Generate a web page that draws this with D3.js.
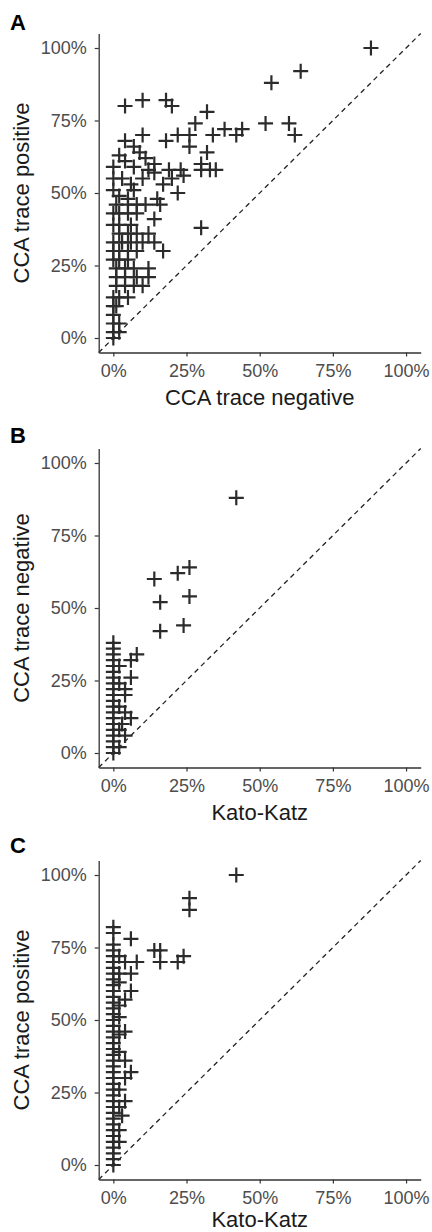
<!DOCTYPE html>
<html><head><meta charset="utf-8">
<script src="https://cdn.jsdelivr.net/npm/d3@7"></script>
<style>body{margin:0;background:#fff}svg{display:block}</style>
</head><body>
<svg id="chart" width="432" height="1232"></svg>
<script>
// Panel A: [CCA trace negative %, CCA trace positive %]
const pointsA = [
  [88,100],[64,92],[54,88],[4,80],[10,82],[18,82],[20,80],[32,78],[28,74],[52,74],[60,74],[62,70],
  [4,68],[10,70],[18,68],[22,70],[26,70],[26,66],[34,70],[38,72],[42,70],[44,72],[32,64],[30,60],
  [30,58],[33,58],[35,58],[30,38],
  [2,63],[7,66],[9,64],[11,62],[14,60],[0,59],[7,59],[19,58],[23,58],[24,56],[14,57],[20,55],
  [0,55],[3,55],[10,55],[22,50],[0,51],[7,51],[15,48],[2,49],[5,48],[4,61],[12,58],[6,53],[17,53],
  [1,46],[5,46],[8,46],[11,46],[16,46],[0,43],[2,43],[5,43],[8,43],[14,41],[0,39],[2,39],[6,39],
  [2,36],[5,36],[8,36],[12,36],[0,33],[3,33],[6,33],[10,33],[14,33],[0,30],[2,30],[5,30],[8,30],[17,30],
  [0,27],[2,27],[5,27],[1,24],[4,24],[7,24],[12,24],[1,21],[4,21],[8,21],[12,21],
  [1,18],[4,18],[7,18],[10,18],[0,14],[2,14],[5,14],[0,11],[1,11],[0,8],[0,5],[2,5],[0,2],[2,2],[0,0]
];
// Panel B: [Kato-Katz %, CCA trace negative %]
const pointsB = [
  [42,88],[14,60],[22,62],[26,64],[16,52],[26,54],[16,42],[24,44],[8,34],[6,32],[2,30],[6,26],
  [4,22],[4,20],[6,12],[3,10],[4,6],[2,2],[2,16],[2,8],[2,24],[4,14],
  [0,38],[0,36],[0,34],[0,32],[0,30],[0,28],[0,26],[0,24],[0,22],[0,20],[0,18],[0,16],[0,14],
  [0,12],[0,10],[0,8],[0,6],[0,4],[0,2],[0,0]
];
// Panel C: [Kato-Katz %, CCA trace positive %]
const pointsC = [
  [42,100],[26,92],[26,88],[6,78],[14,74],[16,74],[16,70],[24,72],[22,70],[8,70],[4,70],[2,72],
  [6,66],[2,63],[6,60],[4,57],[2,51],[4,46],[2,39],[4,36],[6,32],[4,30],[4,22],[2,20],[3,17],
  [2,26],[2,12],[2,45],[2,55],[2,66],[2,8],
  [0,82],[0,80],[0,76],[0,74],[0,72],[0,70],[0,68],[0,66],[0,64],[0,62],[0,60],[0,58],[0,56],
  [0,54],[0,52],[0,50],[0,48],[0,46],[0,44],[0,42],[0,40],[0,38],[0,36],[0,34],[0,32],[0,30],
  [0,28],[0,26],[0,24],[0,22],[0,20],[0,18],[0,16],[0,14],[0,12],[0,10],[0,8],[0,6],[0,4],[0,2],[0,0]
];
const tickValues = [0, 25, 50, 75, 100];
const panelLetters = ["A", "B", "C"];
const xTitles = ["CCA trace negative", "Kato-Katz", "Kato-Katz"];
const yTitles = ["CCA trace positive", "CCA trace negative", "CCA trace positive"];

const layout = [
  {top: 33.5, bottom: 352.5, letterY: 30, xTitleY: 405},
  {top: 448.5, bottom: 767.5, letterY: 443, xTitleY: 820},
  {top: 860.5, bottom: 1179.5, letterY: 853, xTitleY: 1227}
];
const left = 98.7, right = 420.7;
const font = "'Liberation Sans', Arial, sans-serif";
const svg = d3.select("#chart");
svg.append("rect").attr("width", 432).attr("height", 1232).attr("fill", "#fff");

const allPoints = [pointsA, pointsB, pointsC];

allPoints.forEach((pts, i) => {
  const L = layout[i];
  const x = d3.scaleLinear().domain([-5, 105]).range([left, right]);
  const y = d3.scaleLinear().domain([-5, 105]).range([L.bottom, L.top]);
  const g = svg.append("g");

  // diagonal reference line
  g.append("line")
    .attr("x1", x(-5)).attr("y1", y(-5)).attr("x2", x(105)).attr("y2", y(105))
    .attr("stroke", "#222").attr("stroke-width", 1.3).attr("stroke-dasharray", "5,4");

  // points as plus signs
  const s = 7.5;
  g.selectAll("path.pt").data(pts).join("path")
    .attr("class", "pt")
    .attr("d", d => `M${x(d[0]) - s},${y(d[1])}H${x(d[0]) + s}M${x(d[0])},${y(d[1]) - s}V${y(d[1]) + s}`)
    .attr("stroke", "#2b2b2b").attr("stroke-width", 2.2).attr("fill", "none");

  // axes
  const xa = g.append("g").attr("transform", `translate(0,${L.bottom})`)
    .call(d3.axisBottom(x).tickValues(tickValues).tickFormat(d => d + "%").tickSize(4).tickSizeOuter(0).tickPadding(8));
  const ya = g.append("g").attr("transform", `translate(${left},0)`)
    .call(d3.axisLeft(y).tickValues(tickValues).tickFormat(d => d + "%").tickSize(4).tickSizeOuter(0).tickPadding(8));
  [xa, ya].forEach(a => {
    a.select(".domain").attr("stroke", "#333").attr("stroke-width", 1.3);
    a.selectAll(".tick line").attr("stroke", "#333").attr("stroke-width", 1.2);
    a.selectAll(".tick text").attr("fill", "#4d4d4d").style("font-family", font).style("font-size", "18px");
  });

  // axis titles
  svg.append("text").attr("x", (x(0) + x(100)) / 2).attr("y", L.xTitleY)
    .attr("text-anchor", "middle").style("font-family", font).style("font-size", "22px")
    .attr("fill", "#1a1a1a").text(xTitles[i]);
  svg.append("text")
    .attr("transform", `translate(29,${(L.top + L.bottom) / 2}) rotate(-90)`)
    .attr("text-anchor", "middle").style("font-family", font).style("font-size", "22px")
    .attr("fill", "#1a1a1a").text(yTitles[i]);

  // panel letter
  svg.append("text").attr("x", 10).attr("y", L.letterY)
    .style("font-family", font).style("font-size", "22px").style("font-weight", "bold")
    .attr("fill", "#000").text(panelLetters[i]);
});
</script>
</body></html>
